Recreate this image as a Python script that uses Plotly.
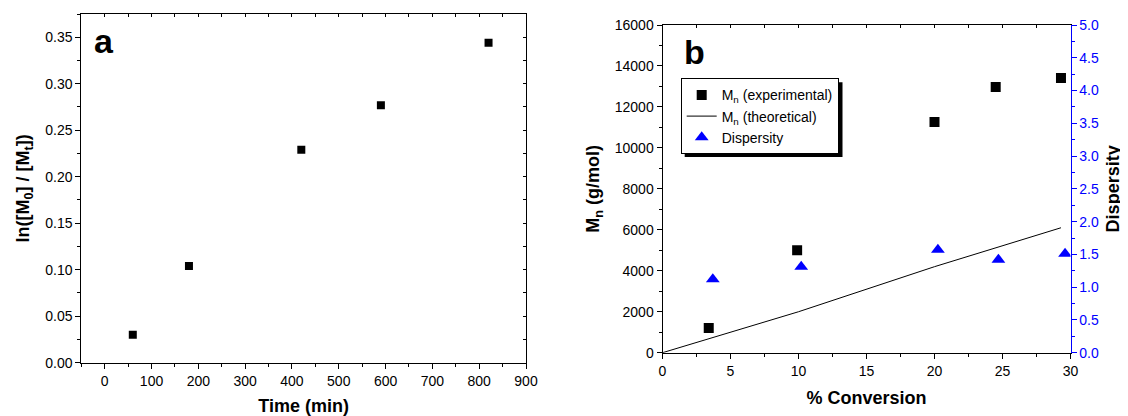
import plotly.graph_objects as go

# ---- Panel a data ----
time_min = [60, 180, 420, 590, 820]
ln_ratio = [0.030, 0.104, 0.229, 0.277, 0.344]

# ---- Panel b data ----
conv_exp = [3.4, 9.9, 20.0, 24.5, 29.3]
mn_exp = [1200, 5000, 11270, 12970, 13410]
conv_theo = [0, 3.4, 10.0, 20.0, 24.5, 29.3]
mn_theo = [0, 690, 2000, 4200, 5120, 6100]
conv_disp = [3.7, 10.2, 20.25, 24.7, 29.6]
dispersity = [1.12, 1.31, 1.57, 1.42, 1.51]

# The page body has an 8px default margin, so the figure is drawn 8px
# smaller and all target pixel positions are offset by that amount.
OFF = 8
W, H = 1128 - OFF, 416 - OFF
FONT = "Arial, Liberation Sans, sans-serif"
BLUE = "#0000ff"

def px(x):
    return (x - OFF) / W

def py(y):
    return 1 - (y - OFF) / H

fig = go.Figure()

fig.add_trace(go.Scatter(x=time_min, y=ln_ratio, mode="markers",
                         marker=dict(symbol="square", size=8, color="black"),
                         xaxis="x", yaxis="y", showlegend=False))

fig.add_trace(go.Scatter(x=conv_exp, y=mn_exp, mode="markers",
                         name="M<sub>n</sub> (experimental)",
                         marker=dict(symbol="square", size=10, color="black"),
                         xaxis="x2", yaxis="y2"))
fig.add_trace(go.Scatter(x=conv_theo, y=mn_theo, mode="lines",
                         name="M<sub>n</sub> (theoretical)",
                         line=dict(color="black", width=1),
                         xaxis="x2", yaxis="y2"))
fig.add_trace(go.Scatter(x=conv_disp, y=dispersity, mode="markers",
                         name="Dispersity",
                         marker=dict(symbol="triangle-up", size=12, color=BLUE),
                         xaxis="x2", yaxis="y4"))

# empty traces so that the mirrored tick axes (top / right) get drawn
fig.add_trace(go.Scatter(x=[None], y=[None], xaxis="x3", yaxis="y",
                         showlegend=False, hoverinfo="skip"))
fig.add_trace(go.Scatter(x=[None], y=[None], xaxis="x", yaxis="y3",
                         showlegend=False, hoverinfo="skip"))
fig.add_trace(go.Scatter(x=[None], y=[None], xaxis="x4", yaxis="y2",
                         showlegend=False, hoverinfo="skip"))

tickfont = dict(family=FONT, size=14, color="black")
titlefont = dict(family=FONT, size=18, color="black")

def base_axis(**kw):
    d = dict(showgrid=False, zeroline=False, showline=True, linecolor="black",
             linewidth=1, ticks="outside", ticklen=5, tickwidth=1,
             tickcolor="black", tickfont=tickfont, automargin=False)
    d.update(kw)
    return d

xa_dom = [px(81.3), px(526)]
ya_dom = [py(362.7), py(14)]
xb_dom = [px(662.5), px(1070.5)]
yb_dom = [py(352.7), py(25)]

fig.update_layout(
    width=W, height=H,
    margin=dict(l=0, r=0, t=0, b=0, pad=0, autoexpand=False),
    paper_bgcolor="white", plot_bgcolor="white",
    font=dict(family=FONT, color="black"),
    xaxis=base_axis(domain=xa_dom, range=[-50, 900], anchor="y",
                    tick0=0, dtick=100,
                    minor=dict(ticks="outside", ticklen=3, dtick=50, tick0=0,
                               tickcolor="black"),
                    title=dict(text="<b>Time (min)</b>", font=titlefont, standoff=13)),
    yaxis=base_axis(domain=ya_dom, range=[0, 0.375], anchor="x",
                    tick0=0, dtick=0.05, tickformat=".2f",
                    minor=dict(ticks="outside", ticklen=3, dtick=0.025, tick0=0,
                               tickcolor="black"),
                    title=dict(text="<b>ln([M<sub>0</sub>] / [M<sub>t</sub>])</b>",
                               font=titlefont, standoff=10)),
    xaxis3=base_axis(domain=xa_dom, range=[-50, 900], anchor="y", overlaying="x",
                     side="top", ticks="inside", ticklen=3, tick0=0, dtick=50,
                     showticklabels=False),
    yaxis3=base_axis(domain=ya_dom, range=[0, 0.375], anchor="x", overlaying="y",
                     side="right", ticks="inside", ticklen=3, tick0=0, dtick=0.025,
                     showticklabels=False),
    xaxis2=base_axis(domain=xb_dom, range=[0, 30], anchor="y2",
                     tick0=0, dtick=5,
                     minor=dict(ticks="outside", ticklen=3, dtick=2.5, tick0=0,
                                tickcolor="black"),
                     title=dict(text="<b>% Conversion</b>", font=titlefont, standoff=13)),
    yaxis2=base_axis(domain=yb_dom, range=[0, 16000], anchor="x2",
                     tick0=0, dtick=2000, tickformat="d",
                     minor=dict(ticks="outside", ticklen=3, dtick=1000, tick0=0,
                                tickcolor="black"),
                     title=dict(text="<b>M<sub>n</sub> (g/mol)</b>", font=titlefont,
                                standoff=10)),
    xaxis4=base_axis(domain=xb_dom, range=[0, 30], anchor="y2", overlaying="x2",
                     side="top", ticks="inside", ticklen=3, tick0=0, dtick=2.5,
                     showticklabels=False),
    yaxis4=base_axis(domain=yb_dom, range=[0, 5], anchor="x2", overlaying="y2",
                     side="right", tick0=0, dtick=0.5, tickformat=".1f",
                     linecolor=BLUE, tickcolor=BLUE,
                     tickfont=dict(family=FONT, size=14, color=BLUE),
                     minor=dict(ticks="outside", ticklen=3, dtick=0.25, tick0=0,
                                tickcolor=BLUE),
                     title=dict(text="<b>Dispersity</b>", font=titlefont, standoff=8)),
    legend=dict(x=px(680.7), y=py(78.3), xanchor="left", yanchor="top",
                bgcolor="white", bordercolor="black", borderwidth=1,
                font=dict(family=FONT, size=14, color="black"),
                tracegroupgap=0),
    shapes=[dict(type="rect", xref="paper", yref="paper",
                 x0=px(684.7), x1=px(842.5), y0=py(157), y1=py(82.3),
                 fillcolor="black", line=dict(width=0), layer="above")],
    annotations=[
        dict(text="<b>a</b>", xref="paper", yref="paper", x=px(92), y=py(41),
             xanchor="left", yanchor="middle", showarrow=False,
             font=dict(family=FONT, size=34, color="black")),
        dict(text="<b>b</b>", xref="paper", yref="paper", x=px(682), y=py(52),
             xanchor="left", yanchor="middle", showarrow=False,
             font=dict(family=FONT, size=34, color="black")),
    ],
)

fig.write_html("out.html")
